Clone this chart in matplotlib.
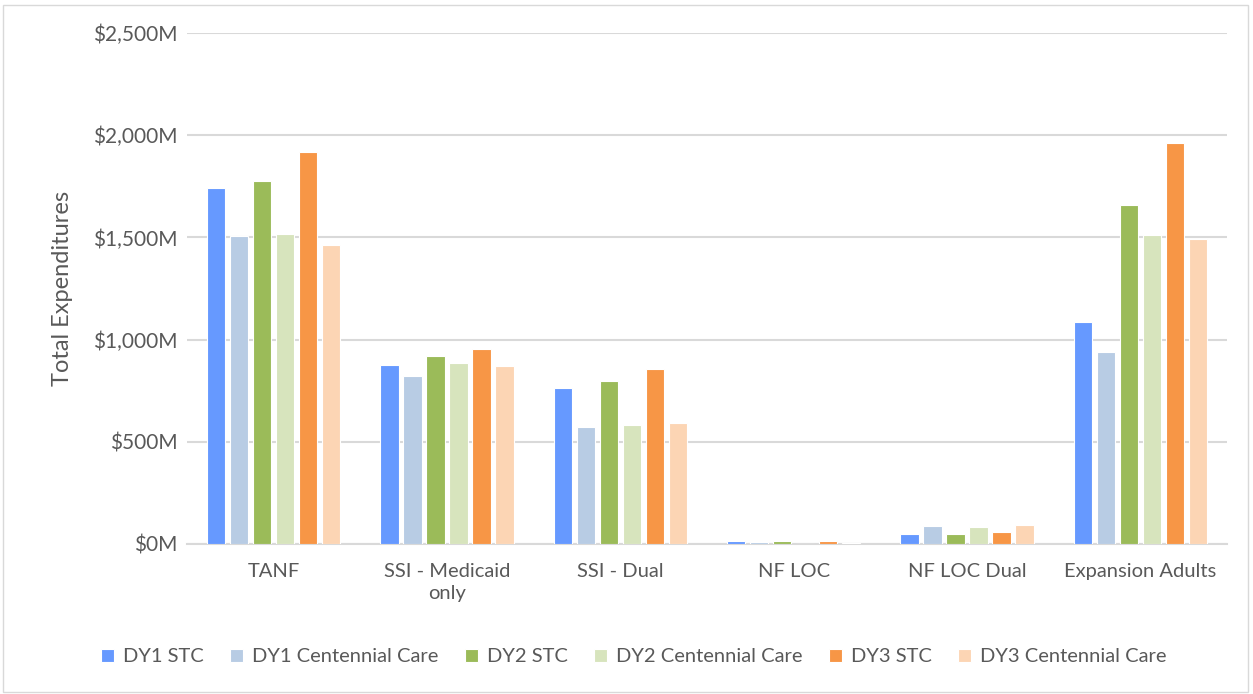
import numpy as np
import matplotlib.pyplot as plt
from matplotlib.patches import Rectangle
from matplotlib.ticker import FuncFormatter

categories = ["TANF", "SSI - Medicaid\nonly", "SSI - Dual", "NF LOC", "NF LOC Dual", "Expansion Adults"]
series = ["DY1 STC", "DY1 Centennial Care", "DY2 STC", "DY2 Centennial Care", "DY3 STC", "DY3 Centennial Care"]

# total expenditures, $M
dy1_stc = [1742, 876, 763, 13, 47, 1087]
dy1_cc = [1508, 821, 572, 8, 87, 940]
dy2_stc = [1776, 919, 797, 13, 47, 1659]
dy2_cc = [1515, 886, 581, 2, 85, 1512]
dy3_stc = [1920, 954, 856, 13, 61, 1964]
dy3_cc = [1463, 871, 591, 7, 92, 1490]

values = [dy1_stc, dy1_cc, dy2_stc, dy2_cc, dy3_stc, dy3_cc]
colors = ["#6699FF", "#B8CCE4", "#9BBB59", "#D7E4BD", "#F79646", "#FCD5B4"]

grey = "#595959"
plt.rcParams['font.family'] = ['Lato', 'DejaVu Sans']

fig = plt.figure(figsize=(12.53, 6.94), dpi=100)
ax = fig.add_axes([187 / 1253, 1 - 544 / 694, 1040 / 1253, 511 / 694])

x = np.arange(len(categories))
stride = 0.133
width = 0.106
for i, (name, vals, col) in enumerate(zip(series, values, colors)):
    ax.bar(x + (i - 2.5) * stride, vals, width=width, color=col,
           edgecolor="white", linewidth=0.8, label=name, zorder=3)

ax.set_xlim(-0.5, len(categories) - 0.5)
ax.set_ylim(0, 2500)
ax.set_yticks(np.arange(0, 2501, 500))
ax.yaxis.set_major_formatter(FuncFormatter(lambda v, p: f"${v:,.0f}M"))
ax.grid(axis="y", color="#D9D9D9", linewidth=1.5, zorder=0)
ax.set_xticks(x)
ax.set_xticklabels(categories, fontsize=14.5, color=grey, linespacing=1.35)
ax.tick_params(axis="y", labelsize=15, labelcolor=grey, length=0, pad=7)
ax.tick_params(axis="x", length=0, pad=14)
for s in ["top", "right", "left"]:
    ax.spines[s].set_visible(False)
ax.spines["bottom"].set_color("#D9D9D9")
ax.spines["bottom"].set_linewidth(1.5)

ax.set_ylabel("Total Expenditures", fontsize=17, color=grey, labelpad=14)

fig.legend(loc="center", bbox_to_anchor=(0.506, 1 - 657 / 694), ncol=6, frameon=False,
           fontsize=14.5, labelcolor=grey, handlelength=0.65, handleheight=0.65,
           handletextpad=0.45, columnspacing=1.3)

fig.patches.append(Rectangle((0.002, 0.003), 0.994, 0.99, transform=fig.transFigure,
                             fill=False, edgecolor="#D9D9D9", linewidth=1))

fig.savefig("out.png", dpi=100)
